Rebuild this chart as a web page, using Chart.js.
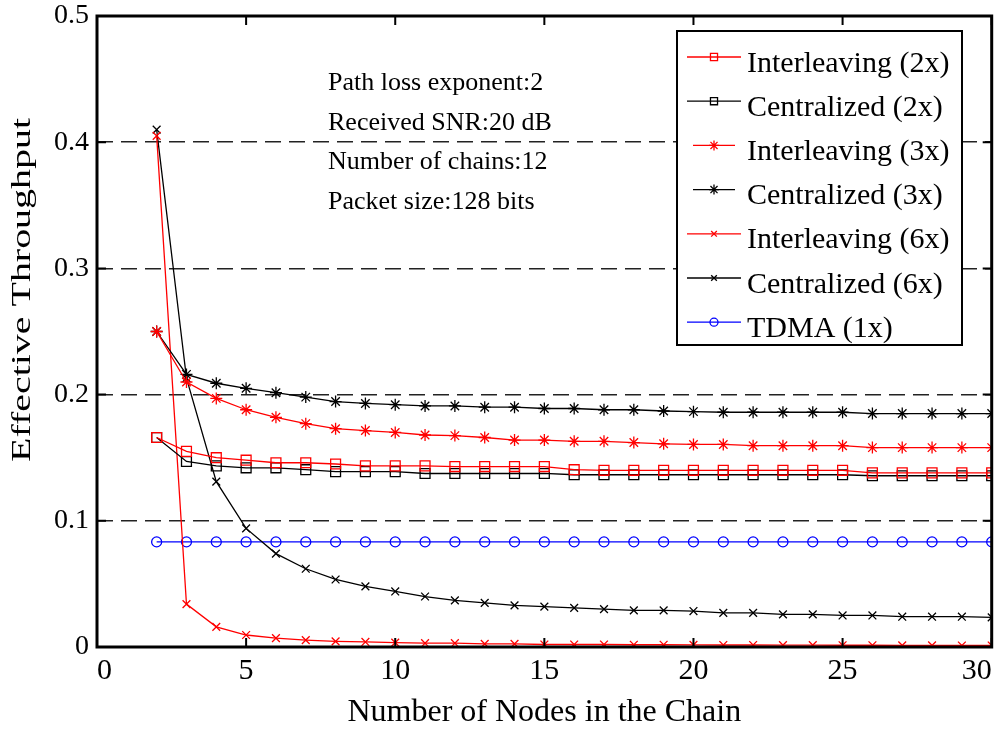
<!DOCTYPE html>
<html>
<head>
<meta charset="utf-8">
<script src="https://cdn.jsdelivr.net/npm/chart.js@4"></script>
<style>
  html, body { margin: 0; padding: 0; background: #fff; }
  #wrap { width: 1000px; height: 734px; }
</style>
</head>
<body>
<div id="wrap"><canvas id="chartThroughput" width="1000" height="734"></canvas></div>
<script>
// x = number of nodes in the chain
const nodes = [2, 3, 4, 5, 6, 7, 8, 9, 10, 11, 12, 13, 14, 15, 16, 17, 18, 19, 20, 21, 22, 23, 24, 25, 26, 27, 28, 29, 30];

const interleaving2x = [0.166, 0.155, 0.150, 0.148, 0.146, 0.146, 0.145, 0.1435, 0.1435, 0.1435, 0.143, 0.143, 0.143, 0.143, 0.1405,
  0.140, 0.140, 0.140, 0.140, 0.140, 0.140, 0.140, 0.140, 0.140, 0.138, 0.138, 0.138, 0.138, 0.138];
const centralized2x = [0.166, 0.147, 0.1435, 0.142, 0.142, 0.1405, 0.139, 0.139, 0.139, 0.1375, 0.1375, 0.1375, 0.1375, 0.1375, 0.1365,
  0.1365, 0.1365, 0.1365, 0.1365, 0.1365, 0.1365, 0.1365, 0.1365, 0.1365, 0.1357, 0.1357, 0.1357, 0.1357, 0.1357];
const interleaving3x = [0.25, 0.21, 0.197, 0.188, 0.182, 0.177, 0.173, 0.1715, 0.17, 0.168, 0.1675, 0.166, 0.164, 0.164, 0.163,
  0.163, 0.162, 0.161, 0.1605, 0.1605, 0.1595, 0.1595, 0.1595, 0.1595, 0.158, 0.158, 0.158, 0.158, 0.158];
const centralized3x = [0.25, 0.216, 0.209, 0.205, 0.2015, 0.198, 0.1945, 0.193, 0.192, 0.191, 0.191, 0.19, 0.19, 0.189, 0.189,
  0.188, 0.188, 0.187, 0.1865, 0.186, 0.186, 0.186, 0.186, 0.186, 0.185, 0.185, 0.185, 0.185, 0.185];
const interleaving6x = [0.405, 0.034, 0.016, 0.0095, 0.007, 0.0055, 0.0045, 0.004, 0.0035, 0.003, 0.003, 0.0025, 0.0025, 0.002, 0.002,
  0.002, 0.0018, 0.0018, 0.0017, 0.0016, 0.0016, 0.0015, 0.0015, 0.0014, 0.0014, 0.0013, 0.0013, 0.0012, 0.0012];
const centralized6x = [0.41, 0.213, 0.131, 0.094, 0.074, 0.062, 0.0535, 0.048, 0.044, 0.040, 0.037, 0.035, 0.033, 0.032, 0.031,
  0.030, 0.029, 0.029, 0.0285, 0.027, 0.027, 0.0258, 0.0258, 0.025, 0.025, 0.024, 0.024, 0.024, 0.0235];
const tdma1x = [0.0833, 0.0833, 0.0833, 0.0833, 0.0833, 0.0833, 0.0833, 0.0833, 0.0833, 0.0833, 0.0833, 0.0833, 0.0833, 0.0833, 0.0833,
  0.0833, 0.0833, 0.0833, 0.0833, 0.0833, 0.0833, 0.0833, 0.0833, 0.0833, 0.0833, 0.0833, 0.0833, 0.0833, 0.0833];

const seriesNames = ['Interleaving (2x)', 'Centralized (2x)', 'Interleaving (3x)', 'Centralized (3x)',
  'Interleaving (6x)', 'Centralized (6x)', 'TDMA (1x)'];
const seriesValues = [interleaving2x, centralized2x, interleaving3x, centralized3x, interleaving6x, centralized6x, tdma1x];
const seriesColors = ['#ff0000', '#000000', '#ff0000', '#000000', '#ff0000', '#000000', '#0000ff'];
const seriesMarkers = ['rect', 'rect', 'star', 'star', 'crossRot', 'crossRot', 'circle'];
const markerRadius = { rect: 7, star: 6, crossRot: 5.5, circle: 5 };
const legendRadius = { rect: 5, star: 5, crossRot: 4, circle: 4 };

const notes = ['Path loss exponent:2', 'Received SNR:20 dB', 'Number of chains:12', 'Packet size:128 bits'];

const serif = "'Liberation Serif', 'Times New Roman', serif";

function drawMarker(ctx, style, r, x, y) {
  if (Chart.helpers && Chart.helpers.drawPoint) {
    Chart.helpers.drawPoint(ctx, { pointStyle: style, radius: r, rotation: 0, borderWidth: ctx.lineWidth }, x, y);
    return;
  }
  ctx.beginPath();
  ctx.arc(x, y, r, 0, Math.PI * 2);
  ctx.stroke();
}

// frame with inward ticks, legend box, notes, rotated y title
const matlabFrame = {
  id: 'matlabFrame',
  afterDatasetsDraw(chart) {
    const { ctx, chartArea: a, scales: { x, y } } = chart;
    ctx.save();
    ctx.strokeStyle = '#000';
    ctx.lineWidth = 2;
    ctx.beginPath();
    x.ticks.forEach(t => {
      const px = x.getPixelForValue(t.value);
      ctx.moveTo(px, a.bottom); ctx.lineTo(px, a.bottom - 9);
      ctx.moveTo(px, a.top); ctx.lineTo(px, a.top + 9);
    });
    y.ticks.forEach(t => {
      const py = y.getPixelForValue(t.value);
      ctx.moveTo(a.left, py); ctx.lineTo(a.left + 9, py);
      ctx.moveTo(a.right, py); ctx.lineTo(a.right - 9, py);
    });
    ctx.stroke();
    ctx.lineWidth = 3;
    ctx.strokeRect(a.left, a.top, a.right - a.left, a.bottom - a.top);
    ctx.restore();
  },
  afterDraw(chart) {
    const ctx = chart.ctx;
    ctx.save();

    // notes
    ctx.fillStyle = '#000';
    ctx.font = '26px ' + serif;
    ctx.textAlign = 'left';
    ctx.textBaseline = 'alphabetic';
    notes.forEach((s, i) => ctx.fillText(s, 328, 90 + i * 39.7));

    // legend
    ctx.fillStyle = '#fff';
    ctx.fillRect(677, 31, 285, 314);
    ctx.strokeStyle = '#000';
    ctx.lineWidth = 2;
    ctx.strokeRect(677, 31, 285, 314);
    ctx.font = '30px ' + serif;
    seriesNames.forEach((name, i) => {
      const ly = 57 + i * 44.2;
      const short = seriesMarkers[i] === 'star';
      ctx.strokeStyle = seriesColors[i];
      ctx.fillStyle = 'rgba(0,0,0,0)';
      ctx.lineWidth = 1.3;
      ctx.beginPath();
      ctx.moveTo(short ? 693 : 687, ly);
      ctx.lineTo(short ? 735 : 741, ly);
      ctx.stroke();
      drawMarker(ctx, seriesMarkers[i], legendRadius[seriesMarkers[i]], 714, ly);
      ctx.fillStyle = '#000';
      ctx.fillText(name, 747, ly + 14.5);
    });

    // y axis title, stretched along its length like the original
    ctx.font = '27px ' + serif;
    ctx.textAlign = 'center';
    ctx.textBaseline = 'middle';
    ctx.translate(23, 290);
    ctx.rotate(-Math.PI / 2);
    const w = ctx.measureText('Effective Throughput').width;
    ctx.scale(344 / w, 1);
    ctx.fillText('Effective Throughput', 0, 0);
    ctx.restore();
  }
};

const ctxThroughput = document.getElementById('chartThroughput').getContext('2d');

new Chart(ctxThroughput, {
  type: 'line',
  data: {
    labels: nodes,
    datasets: seriesNames.map((name, i) => ({
      label: name,
      data: nodes.map((n, k) => ({ x: n, y: seriesValues[i][k] })),
      borderColor: seriesColors[i],
      borderWidth: 1.3,
      pointStyle: seriesMarkers[i],
      pointRadius: markerRadius[seriesMarkers[i]],
      pointBorderColor: seriesColors[i],
      pointBackgroundColor: 'rgba(0,0,0,0)',
      pointBorderWidth: 1.3,
      tension: 0,
      fill: false
    }))
  },
  options: {
    responsive: false,
    animation: false,
    layout: { padding: { top: 16, right: 8, left: 0, bottom: 0 } },
    scales: {
      x: {
        type: 'linear',
        min: 0,
        max: 30,
        ticks: {
          stepSize: 5,
          color: '#000',
          align: 'inner',
          maxRotation: 0,
          padding: 6,
          font: { family: serif, size: 30 }
        },
        grid: { display: false, drawTicks: false },
        border: { display: false },
        title: {
          display: true,
          text: 'Number of Nodes in the Chain',
          color: '#000',
          font: { family: serif, size: 32 },
          padding: { top: 0, bottom: 2 }
        },
        afterFit(s) { s.height = 87; s.paddingLeft = 0; s.paddingRight = 0; }
      },
      y: {
        min: 0,
        max: 0.5,
        ticks: {
          stepSize: 0.1,
          color: '#000',
          padding: 8,
          font: { family: serif, size: 28 }
        },
        grid: {
          drawTicks: false,
          lineWidth: 1.5,
          color: c => (c.tick && c.tick.value > 0.01 && c.tick.value < 0.49) ? '#222' : 'rgba(0,0,0,0)'
        },
        border: { display: false, dash: [16, 8] },
        afterFit(s) { s.width = 97; s.paddingTop = 0; s.paddingBottom = 0; }
      }
    },
    plugins: {
      legend: { display: false },
      tooltip: { enabled: false }
    }
  },
  plugins: [matlabFrame]
});
</script>
</body>
</html>
